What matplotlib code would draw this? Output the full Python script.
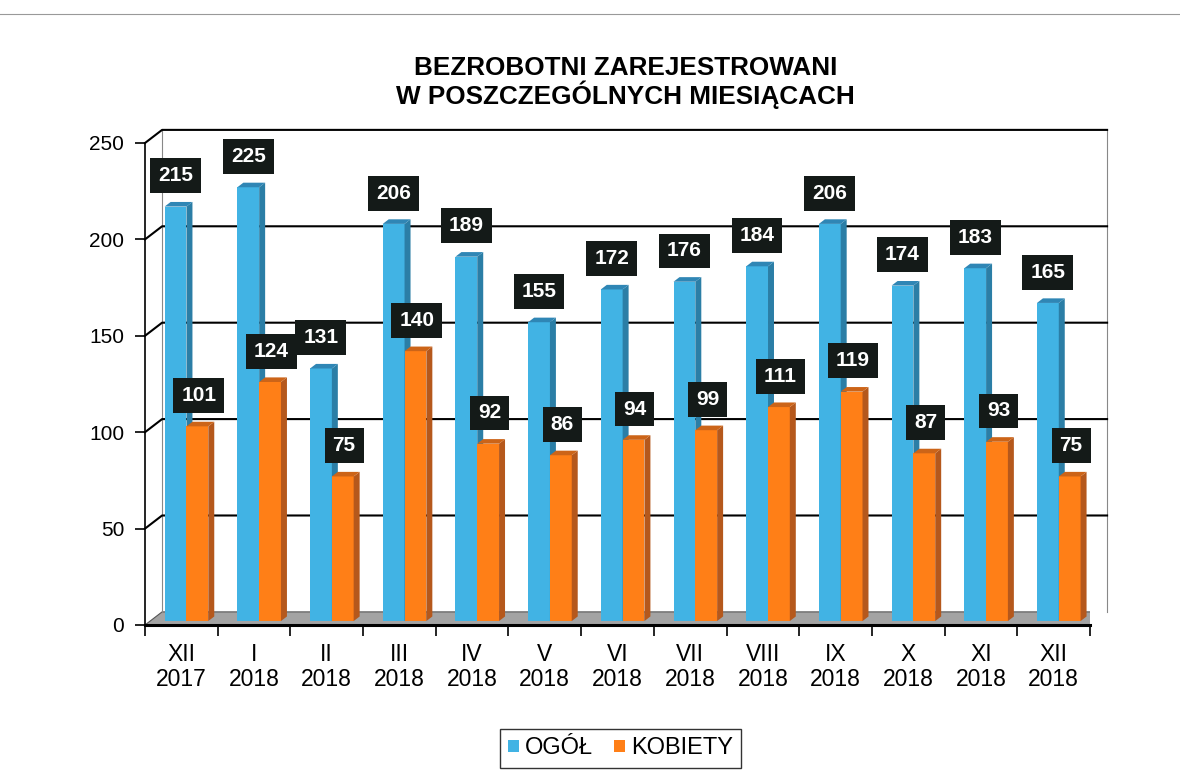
import matplotlib.pyplot as plt
from matplotlib.patches import Polygon, Patch

plt.rcParams['font.family'] = ['Liberation Sans', 'DejaVu Sans']

# data
months = ['XII\n2017', 'I\n2018', 'II\n2018', 'III\n2018', 'IV\n2018', 'V\n2018', 'VI\n2018',
          'VII\n2018', 'VIII\n2018', 'IX\n2018', 'X\n2018', 'XI\n2018', 'XII\n2018']
ogol = [215, 225, 131, 206, 189, 155, 172, 176, 184, 206, 174, 183, 165]
kobiety = [101, 124, 75, 140, 92, 86, 94, 99, 111, 119, 87, 93, 75]
yticks = [0, 50, 100, 150, 200, 250]
title = 'BEZROBOTNI ZAREJESTROWANI\nW POSZCZEGÓLNYCH MIESIĄCACH'

# colours (face, side, top)
blue = ('#41b3e4', '#2b7ea6', '#2f86b5')
orange = ('#ff7f17', '#b5581c', '#cc6418')

fig = plt.figure(figsize=(11.8, 7.73), dpi=100, facecolor='white')
ax = fig.add_axes([145 / 1180, 1 - 625 / 773, 945 / 1180, 482 / 773])
n = len(months)
ymax = 250
ax.set_xlim(0, n)
ax.set_ylim(0, ymax)
ax.set_facecolor('none')

# depth offset of the back wall in data units
ddx, ddy = 0.235, 6.8

# floor
ax.add_patch(Polygon([(0, 0), (n, 0), (n + ddx, ddy), (ddx, ddy)], closed=True,
                     facecolor='#a3a3a3', edgecolor='#555555', lw=0.8, zorder=1))
# back wall edges and grid
ax.plot([ddx, ddx], [ddy, ymax + ddy], color='#888888', lw=0.8, zorder=1, clip_on=False)
ax.plot([n + ddx, n + ddx], [ddy, ymax + ddy], color='#888888', lw=0.8, zorder=1, clip_on=False)
for v in yticks[1:]:
    ax.plot([0, ddx, n + ddx], [v, v + ddy, v + ddy], color='black', lw=1.5, zorder=1,
            clip_on=False)

# bars with pseudo-3D faces
f0, f1 = 0.3, 0.65
w = 0.3
def bar3d(x0, v, cols):
    bx, by = f0 * ddx, f0 * ddy
    ex, ey = f1 * ddx, f1 * ddy
    ax.bar(x0 + bx, v, width=w, bottom=by, align='edge', color=cols[0],
           edgecolor='none', zorder=3)
    ax.add_patch(Polygon([(x0 + w + bx, by), (x0 + w + ex, ey), (x0 + w + ex, v + ey),
                          (x0 + w + bx, v + by)], closed=True, facecolor=cols[1],
                         edgecolor='none', zorder=3))
    ax.add_patch(Polygon([(x0 + bx, v + by), (x0 + w + bx, v + by), (x0 + w + ex, v + ey),
                          (x0 + ex, v + ey)], closed=True, facecolor=cols[2],
                         edgecolor='none', zorder=3))

for i in range(n):
    bar3d(i + 0.2, ogol[i], blue)
    bar3d(i + 0.2 + w, kobiety[i], orange)

box = dict(boxstyle='square,pad=0.38', facecolor='#141a18', edgecolor='none')
for i in range(n):
    ax.text(i + 0.42, ogol[i] + 18, str(ogol[i]), ha='center', va='center', color='white',
            fontsize=15, fontweight='bold', bbox=box, zorder=6)
    ax.text(i + 0.74, kobiety[i] + 18, str(kobiety[i]), ha='center', va='center',
            color='white', fontsize=15, fontweight='bold', bbox=box, zorder=6)

# axes
for s in ['top', 'right']:
    ax.spines[s].set_visible(False)
ax.spines['left'].set_linewidth(1.2)
ax.spines['bottom'].set_linewidth(2.2)
ax.spines['bottom'].set_zorder(2)
ax.set_yticks(yticks)
ax.tick_params(axis='y', direction='out', length=7, width=1.2, labelsize=15, pad=8)
ax.set_xticks(range(n + 1))
ax.set_xticklabels([])
ax.tick_params(axis='x', which='major', direction='out', length=8, width=1.2)
ax.set_xticks([i + 0.5 for i in range(n)], minor=True)
ax.set_xticklabels(months, minor=True, fontsize=16.5, linespacing=1.12)
ax.tick_params(axis='x', which='minor', length=0, pad=13)

fig.text(0.53, 0.893, title, ha='center', va='center', fontsize=18.8, fontweight='bold',
         linespacing=1.02)

# legend
leg = fig.legend(handles=[Patch(facecolor=blue[0], label='OGÓŁ'),
                          Patch(facecolor=orange[0], label='KOBIETY')],
                 loc='center', bbox_to_anchor=(0.526, 0.032), ncol=2, fontsize=17,
                 frameon=True, fancybox=False, edgecolor='black', handlelength=0.45,
                 handleheight=0.45, handletextpad=0.25, columnspacing=0.9, borderpad=0.35)
leg.get_frame().set_linewidth(1.0)

# page border line of the scan
fig.add_artist(plt.Line2D([0, 1], [1 - 14 / 773, 1 - 14 / 773], color='#999999', lw=0.8))

fig.savefig('out.png', dpi=100)
